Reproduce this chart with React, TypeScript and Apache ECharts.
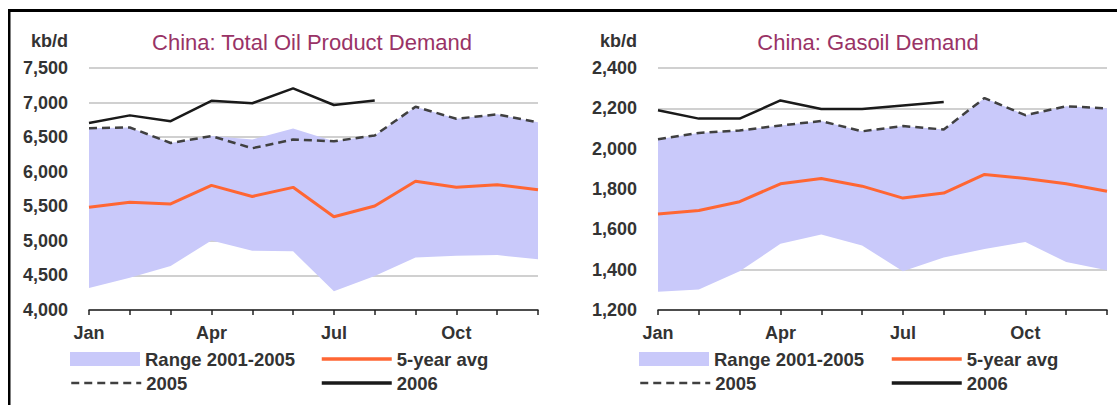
import React, { useEffect, useRef } from "react";
import * as echarts from "echarts";

const months = ["Jan", "Feb", "Mar", "Apr", "May", "Jun", "Jul", "Aug", "Sep", "Oct", "Nov", "Dec"];

// China: Total Oil Product Demand (kb/d)
const totalLow = [4318, 4466, 4637, 5005, 4858, 4848, 4270, 4490, 4760, 4784, 4794, 4735];
const totalHigh = [6630, 6640, 6415, 6515, 6465, 6625, 6440, 6525, 6940, 6765, 6830, 6715];
const totalAvg = [5485, 5558, 5534, 5803, 5642, 5774, 5348, 5504, 5862, 5774, 5813, 5740];
const total2005 = [6630, 6640, 6415, 6515, 6340, 6465, 6440, 6525, 6940, 6765, 6830, 6715];
const total2006 = [6705, 6815, 6730, 7025, 6990, 7205, 6965, 7030, null, null, null, null];

// China: Gasoil Demand (kb/d)
const gasLow = [1290, 1302, 1392, 1528, 1574, 1520, 1392, 1460, 1503, 1537, 1438, 1397];
const gasHigh = [2047, 2078, 2090, 2115, 2137, 2086, 2112, 2095, 2251, 2166, 2210, 2200];
const gasAvg = [1676, 1693, 1737, 1826, 1852, 1814, 1755, 1780, 1872, 1852, 1826, 1789];
const gas2005 = [2047, 2078, 2090, 2115, 2137, 2086, 2112, 2095, 2251, 2166, 2210, 2200];
const gas2006 = [2190, 2149, 2149, 2239, 2197, 2197, 2214, 2231, null, null, null, null];

const totalTicks = { min: 4000, max: 7500, interval: 500 };
const gasTicks = { min: 1200, max: 2400, interval: 200 };

const titles = ["China: Total Oil Product Demand", "China: Gasoil Demand"];
const unit = "kb/d";
const names = { range: "Range 2001-2005", avg: "5-year avg", y2005: "2005", y2006: "2006" };

const FONT = "'Liberation Sans', Arial, sans-serif";
const BAND = "#C9C9FA";
const ORANGE = "#FF6633";
const TXT = "#333333";

function buildSeries(idx: number, low: number[], high: number[], avg: number[], s2005: number[], s2006: (number | null)[]) {
  const diff = high.map((h, i) => h - low[i]);
  const stack = "band" + idx;
  return [
    {
      type: "line", name: "_low" + idx, xAxisIndex: idx, yAxisIndex: idx, data: low, stack,
      symbol: "none", lineStyle: { opacity: 0, width: 0 }, silent: true, z: 1,
    },
    {
      type: "line", name: names.range, xAxisIndex: idx, yAxisIndex: idx, data: diff, stack,
      symbol: "none", color: BAND, lineStyle: { opacity: 0, width: 0 },
      areaStyle: { color: BAND, opacity: 1 }, z: 1,
    },
    {
      type: "line", name: names.avg, xAxisIndex: idx, yAxisIndex: idx, data: avg,
      symbol: "none", color: ORANGE, lineStyle: { color: ORANGE, width: 3 }, z: 3,
    },
    {
      type: "line", name: names.y2005, xAxisIndex: idx, yAxisIndex: idx, data: s2005,
      symbol: "none", color: "#404040", lineStyle: { color: "#404040", width: 2.5, type: [8, 5] }, z: 4,
    },
    {
      type: "line", name: names.y2006, xAxisIndex: idx, yAxisIndex: idx, data: s2006,
      symbol: "none", color: "#1A1A1A", lineStyle: { color: "#1A1A1A", width: 2.5 }, z: 5,
    },
  ];
}

function legendItem(left: number, top: number, name: string, rect = false, dashed = false) {
  return {
    left, top, padding: 0, itemGap: 0, itemWidth: 70, itemHeight: 14, selectedMode: false,
    data: [rect ? { name, icon: "rect" } : { name }],
    itemStyle: rect ? {} : { color: "rgba(0,0,0,0)", borderColor: "rgba(0,0,0,0)", borderWidth: 0, opacity: 0 },
    lineStyle: rect ? {} : { width: dashed ? 2.5 : 3.5 },
    textStyle: { fontSize: 18.5, fontWeight: "bold", color: TXT, fontFamily: FONT, lineHeight: 20, padding: [0, 0, 0, 0] },
  };
}

function xAxisFor(idx: number) {
  return {
    type: "category", gridIndex: idx, data: months, boundaryGap: false,
    axisLine: { lineStyle: { color: "#222", width: 1.5 } },
    axisTick: { show: true, interval: 0, length: 5, lineStyle: { color: "#222", width: 1.5 } },
    axisLabel: { interval: 2, margin: 14, fontSize: 18, fontWeight: "bold", color: TXT, fontFamily: FONT },
    splitLine: { show: false },
  };
}

function yAxisFor(idx: number, t: { min: number; max: number; interval: number }) {
  return {
    type: "value", gridIndex: idx, min: t.min, max: t.max, interval: t.interval,
    axisLine: { show: false }, axisTick: { show: false },
    axisLabel: {
      margin: 21, fontSize: 18, fontWeight: "bold", color: TXT, fontFamily: FONT,
      formatter: (v: number) => v.toLocaleString("en-US"),
    },
    splitLine: { lineStyle: { color: "#C0C0C0", width: 1.5 } },
  };
}

export default function App() {
  const ref = useRef<HTMLDivElement>(null);
  useEffect(() => {
    if (!ref.current) return;
    const chart = echarts.init(ref.current, null, { renderer: "svg" });
    chart.setOption({
      animation: false,
      backgroundColor: "#FFFFFF",
      grid: [
        { left: 89, top: 68, width: 449, height: 242 },
        { left: 658, top: 68, width: 449, height: 242 },
      ],
      xAxis: [xAxisFor(0), xAxisFor(1)],
      yAxis: [yAxisFor(0, totalTicks), yAxisFor(1, gasTicks)],
      legend: [
        legendItem(70, 349, names.range, true),
        legendItem(320, 349, names.avg),
        legendItem(70, 373, names.y2005, false, true),
        legendItem(320, 373, names.y2006),
        legendItem(639, 349, names.range, true),
        legendItem(890, 349, names.avg),
        legendItem(639, 373, names.y2005, false, true),
        legendItem(890, 373, names.y2006),
      ],
      series: [
        ...buildSeries(0, totalLow, totalHigh, totalAvg, total2005, total2006),
        ...buildSeries(1, gasLow, gasHigh, gasAvg, gas2005, gas2006),
      ],
      graphic: [
        { type: "rect", shape: { x: 8, y: 9, width: 1109, height: 3 }, style: { fill: "#000" }, silent: true },
        { type: "rect", shape: { x: 8, y: 9, width: 2.5, height: 396 }, style: { fill: "#000" }, silent: true },
        {
          type: "text", x: 312, y: 42,
          style: { text: titles[0], fill: "#993366", font: `22px ${FONT}`, textAlign: "center", textVerticalAlign: "middle" },
        },
        {
          type: "text", x: 868, y: 42,
          style: { text: titles[1], fill: "#993366", font: `22px ${FONT}`, textAlign: "center", textVerticalAlign: "middle" },
        },
        {
          type: "text", x: 68, y: 41,
          style: { text: unit, fill: TXT, font: `bold 18px ${FONT}`, textAlign: "right", textVerticalAlign: "middle" },
        },
        {
          type: "text", x: 637, y: 41,
          style: { text: unit, fill: TXT, font: `bold 18px ${FONT}`, textAlign: "right", textVerticalAlign: "middle" },
        },
      ],
    });
    return () => chart.dispose();
  }, []);
  return <div ref={ref} style={{ position: "fixed", left: 0, top: 0, width: 1117, height: 405 }} />;
}
